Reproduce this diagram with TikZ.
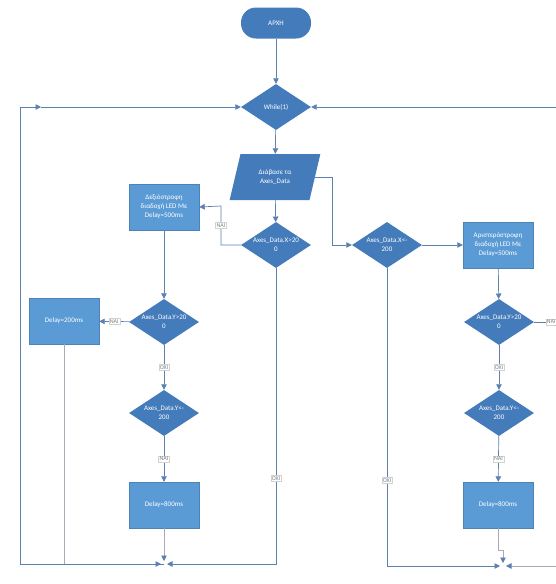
\documentclass[tikz,border=0pt]{standalone}
\usepackage{fontspec}
\setmainfont{Carlito}
\usetikzlibrary{shapes.geometric,arrows.meta}

\definecolor{bleuboite}{RGB}{91,155,213}
\definecolor{bleufonce}{RGB}{68,123,186}
\definecolor{trait}{RGB}{92,128,176}
\definecolor{traitgris}{RGB}{168,170,184}

\tikzset{
  boite/.style={rectangle, fill=bleuboite, draw=bleuboite!85!black, line width=0.4pt,
    minimum width=70pt, minimum height=46pt, inner sep=1pt,
    text=white, align=center, font=\fontsize{7}{9}\selectfont},
  decision/.style={diamond, fill=bleufonce, aspect=1.5, inner sep=0pt,
    minimum width=70pt, minimum height=46pt,
    text=white, align=center, font=\fontsize{7}{9}\selectfont},
  lien/.style={draw=trait, line width=0.7pt, -{Triangle[length=5.5pt,width=5.5pt]}},
  liengris/.style={draw=traitgris, line width=0.7pt, -{Triangle[length=5.5pt,width=5.5pt,color=trait]}},
  reponse/.style={fill=white, draw=gray!35, line width=0.3pt, inner sep=1pt,
    text=gray, font=\fontsize{6}{7}\selectfont}
}

\begin{document}
\begin{tikzpicture}[x=1pt, y=-1pt]
        \useasboundingbox (0,0) rectangle (556,584);

        % Début et boucle
        \node[fill=bleufonce, rounded corners=15pt, minimum width=70pt, minimum height=31pt,
              text=white, font=\fontsize{7}{8}\selectfont] (debut) at (276,23) {ΑΡΧΗ};
        \node[decision] (while) at (276,107) {While(1)};
        \node[trapezium, trapezium left angle=74, trapezium right angle=106,
              trapezium stretches=true, fill=bleufonce, minimum width=91pt, minimum height=46pt,
              text=white, align=center, font=\fontsize{7}{9}\selectfont] (lire) at (275,177)
              {Διάβασε τα\\Axes\_Data};

        % Tests sur X
        \node[decision] (xsup) at (276,245) {Axes\_Data.X>20\\0};
        \node[decision] (xinf) at (387,245) {Axes\_Data.X<-\\200};
        \node[boite] (droite) at (164,207) {Δεξιόστροφη\\διαδοχή LED Με\\Delay=500ms};
        \node[boite] (gauche) at (498,245) {Αριστερόστροφη\\διαδοχή LED Με\\Delay=500ms};

        % Branche gauche
        \node[decision] (ysupa) at (164,322) {Axes\_Data.Y>20\\0};
        \node[decision] (yinfa) at (164,413) {Axes\_Data.Y<-\\200};
        \node[boite] (dcourt) at (64,321) {Delay=200ms};
        \node[boite] (dlonga) at (164,505) {Delay=800ms};

        % Branche droite
        \node[decision] (ysupb) at (499,322) {Axes\_Data.Y>20\\0};
        \node[decision] (yinfb) at (499,413) {Axes\_Data.Y<-\\200};
        \node[boite] (dlongb) at (498,505) {Delay=800ms};

        % Points de jonction
        \coordinate (ma) at (164,564);
        \coordinate (mb) at (503,566);
        \coordinate (bg) at (20,107);
        \coordinate (fg) at (41,107);
        \coordinate (hd) at (556,107);
        \coordinate (bd) at (556,566);
        \coordinate (k1) at (221,206);
        \coordinate (k2) at (332,245);
        \coordinate (k3) at (503,550);
        \coordinate (sd) at (568,322);

        \draw[lien] (debut) -- (while);
        \draw[lien] (while) -- (lire);
        \draw[lien] (lire) -- (xsup);
        \draw[lien] (xsup.west) -| node[reponse, pos=0.75] {ΝΑΙ} (k1) -- (droite.east);
        \draw[lien] (lire.east) -| (k2) -- (xinf.west);
        \draw[lien] (xinf.east) -- (gauche.west);

        \draw[lien] (droite) -- (ysupa);
        \draw[lien] (ysupa) -- node[reponse] {ΝΑΙ} (dcourt);
        \draw[lien] (ysupa) -- node[reponse] {ΟΧΙ} (yinfa);
        \draw[lien] (yinfa) -- node[reponse] {ΝΑΙ} (dlonga);

        \draw[lien] (gauche) -- (ysupb);
        \draw[lien] (ysupb.east) -- node[reponse] {ΝΑΙ} (sd);
        \draw[lien] (ysupb) -- node[reponse] {ΟΧΙ} (yinfb);
        \draw[lien] (yinfb) -- node[reponse] {ΝΑΙ} (dlongb);

        % Retours vers la boucle
        \draw[liengris, shorten >=3pt] (dlonga) -- (ma);
        \draw[liengris, shorten >=3pt] (dcourt.south) |- (ma);
        \draw[lien, shorten >=3pt] (xsup.south) |- node[reponse, pos=0.355] {ΟΧΙ} (ma);
        \draw[lien] (ma) -| (bg) -- (fg);
        \draw[lien] (fg) -- (while.west);
        \draw[lien] (hd) -- (while.east);

        \draw[lien, shorten >=3pt] (xinf.south) |- node[reponse, pos=0.356] {ΟΧΙ} (mb);
        \draw[liengris, shorten >=3pt] (dlongb.south) |- (k3) -- (mb);
        \draw[liengris, shorten >=3pt] (bd) -- (mb);
    \end{tikzpicture}
\end{document}
